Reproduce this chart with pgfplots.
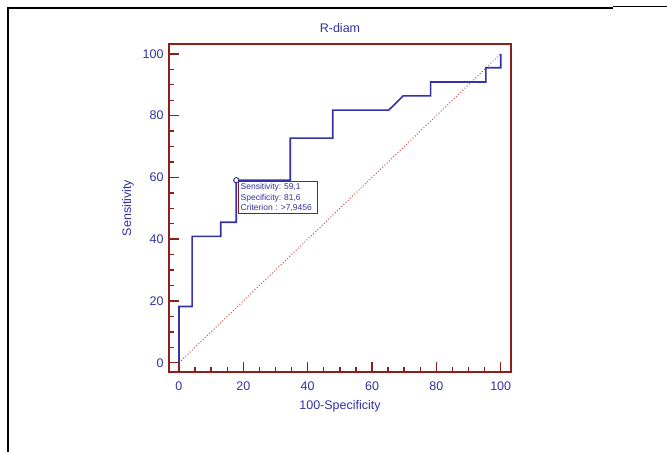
\documentclass[border=0pt]{standalone}
\usepackage{pgfplots}
\pgfplotsset{compat=1.18}
\usepackage{fontspec}
\setmainfont{Liberation Sans}
\definecolor{axred}{RGB}{140,30,30}
\definecolor{rocblue}{RGB}{50,50,170}
\definecolor{txtblue}{RGB}{50,50,160}
\definecolor{diagred}{RGB}{205,80,80}
\begin{document}
\frenchspacing
\begin{tikzpicture}[x=1pt,y=1pt]
\useasboundingbox (0,0) rectangle (667,452);
\draw[line width=1.5pt] (8,0) -- (8,444) -- (613,444);
\draw[line width=1.5pt] (613,445.5) -- (667,445.5);
\begin{axis}[at={(169pt,80pt)}, anchor=south west, scale only axis,
  width=342pt, height=328pt,
  xmin=-3.1, xmax=103.2, ymin=-3, ymax=103.2,
  axis line style={axred, line width=1.4pt},
  tick style={draw=axred, line width=1.4pt},
  major tick style={draw=axred, line width=1.4pt},
  minor tick style={draw=axred, line width=1.4pt},
  tick align=inside, xtick pos=bottom, ytick pos=left,
  major tick length=9.5pt, minor tick length=5pt,
  xtick={0,20,...,100}, ytick={0,20,...,100},
  minor xtick={0,5,...,100}, minor ytick={0,5,...,100},
  /pgf/number format/assume math mode=true,
  tick label style={font=\fontsize{12.5}{14}\selectfont, text=txtblue},
  xticklabel style={yshift=-6pt},
  yticklabel style={xshift=-2pt},
  title={R-diam}, title style={at={(axis description cs:0.5,1.03)}, anchor=center, yshift=0pt, font=\fontsize{12.5}{14}\selectfont, text=txtblue},
  xlabel={100-Specificity}, xlabel style={at={(axis description cs:0.5,-0.1037)}, anchor=center, font=\fontsize{12.5}{14}\selectfont, text=txtblue},
  ylabel={Sensitivity}, ylabel style={at={(axis description cs:-0.12,0.5)}, anchor=center, font=\fontsize{12.5}{14}\selectfont, text=txtblue},
  clip=false]
\addplot[diagred, line width=1pt, dash pattern=on 1pt off 2pt] coordinates {(0,0) (100,100)};
\addplot[rocblue, line width=1.6pt, line join=miter] coordinates {
(0,0)(0,18.2)(4.1,18.2)(4.1,40.9)(13.0,40.9)(13.0,45.5)(17.8,45.5)(17.8,59.1)
(34.6,59.1)(34.6,72.7)(47.8,72.7)(47.8,81.8)(65.2,81.8)(69.7,86.4)(78.2,86.4)
(78.2,90.9)(95.4,90.9)(95.4,95.5)(100,95.5)(100,100)};
\addplot[only marks, mark=*, mark size=2.6pt, draw=rocblue, fill=white, line width=1pt] coordinates {(17.8,59.1)};
\node[draw=axred, line width=1.1pt, fill=white, anchor=north west, align=left,
  font=\fontsize{8.5}{10.5}\selectfont, text=txtblue, text width=75pt, inner sep=2pt]
  at (axis cs:18.4,58.8) {Sensitivity: 59,1\\Specificity: 81,6\\Criterion : >7,9456};
\end{axis}
\end{tikzpicture}
\end{document}
